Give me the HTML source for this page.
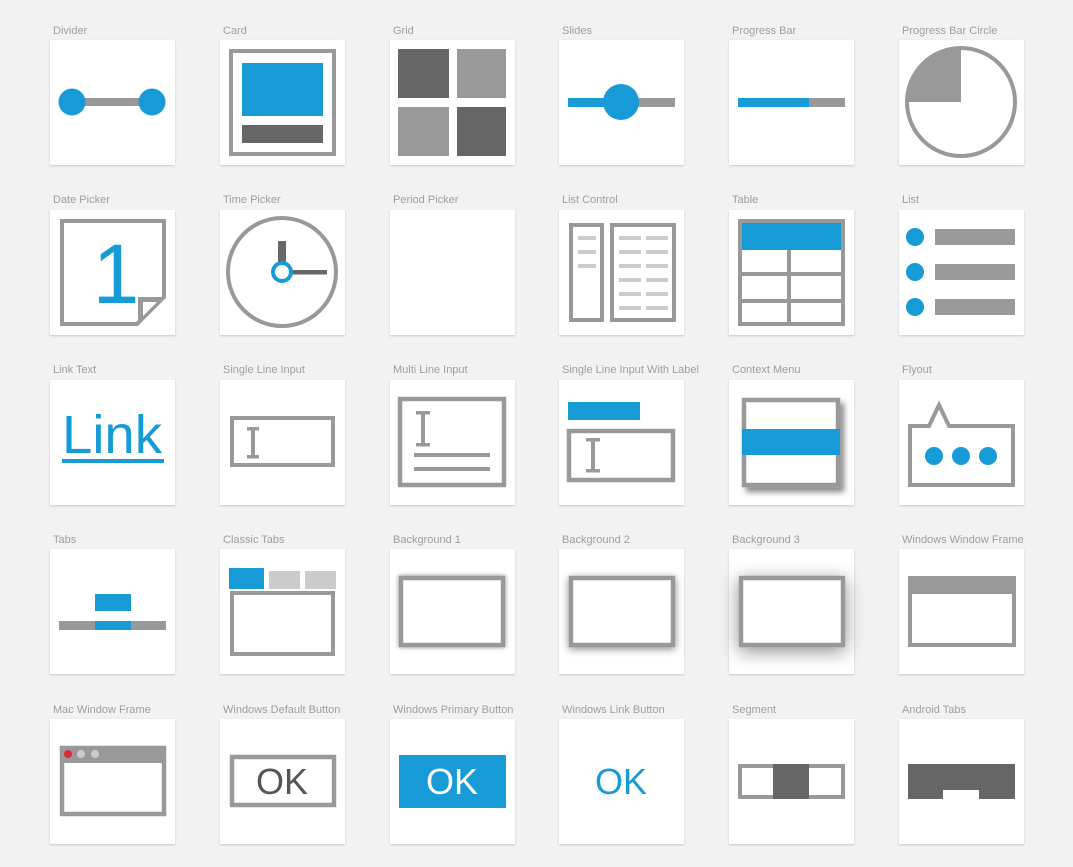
<!DOCTYPE html>
<html><head><meta charset="utf-8"><style>
body{margin:0;background:#f2f2f2;width:1073px;height:867px;overflow:hidden;font-family:"Liberation Sans",sans-serif}
.c{position:absolute;width:125px;height:125px;background:#fff;box-shadow:0 1px 2px rgba(0,0,0,.18)}
.l{position:absolute;font-size:11px;color:#9e9e9e;white-space:nowrap;margin-top:1px}
svg{position:absolute;left:0;top:0;overflow:visible}
</style></head><body>
<svg width="0" height="0"><defs>
<filter id="s1" x="-30%" y="-30%" width="160%" height="160%"><feDropShadow dx="0" dy="0" stdDeviation="2.5" flood-color="#000" flood-opacity=".45"/></filter>
<filter id="s2" x="-30%" y="-30%" width="160%" height="160%"><feDropShadow dx="0" dy="2" stdDeviation="4" flood-color="#000" flood-opacity=".45"/></filter>
<filter id="s3" x="-40%" y="-40%" width="180%" height="180%"><feDropShadow dx="0" dy="4" stdDeviation="9" flood-color="#000" flood-opacity=".45"/></filter>
<filter id="s4" x="-30%" y="-30%" width="160%" height="160%"><feDropShadow dx="4" dy="5" stdDeviation="3" flood-color="#000" flood-opacity=".45"/></filter>
</defs></svg>

<!-- Row 1 -->
<div class="l" style="left:53px;top:24px">Divider</div>
<div class="c" style="left:50px;top:40px"><svg width="125" height="125">
<line x1="22" y1="62" x2="102" y2="62" stroke="#999" stroke-width="8"/>
<circle cx="22" cy="62" r="13.5" fill="#179bd7"/><circle cx="102" cy="62" r="13.5" fill="#179bd7"/></svg></div>

<div class="l" style="left:223px;top:24px">Card</div>
<div class="c" style="left:220px;top:40px"><svg width="125" height="125">
<rect x="11" y="11" width="103" height="103" fill="none" stroke="#999" stroke-width="4"/>
<rect x="22" y="23" width="81" height="53" fill="#179bd7"/><rect x="22" y="85" width="81" height="18" fill="#666"/></svg></div>

<div class="l" style="left:393px;top:24px">Grid</div>
<div class="c" style="left:390px;top:40px"><svg width="125" height="125">
<rect x="8" y="9" width="51" height="49" fill="#666"/><rect x="67" y="9" width="49" height="49" fill="#999"/>
<rect x="8" y="67" width="51" height="49" fill="#999"/><rect x="67" y="67" width="49" height="49" fill="#666"/></svg></div>

<div class="l" style="left:562px;top:24px">Slides</div>
<div class="c" style="left:559px;top:40px"><svg width="125" height="125">
<rect x="9" y="58" width="55" height="9" fill="#179bd7"/><rect x="62" y="58" width="54" height="9" fill="#999"/>
<circle cx="62" cy="62" r="18" fill="#179bd7"/></svg></div>

<div class="l" style="left:732px;top:24px">Progress Bar</div>
<div class="c" style="left:729px;top:40px"><svg width="125" height="125">
<rect x="9" y="58" width="71" height="9" fill="#179bd7"/><rect x="80" y="58" width="36" height="9" fill="#999"/></svg></div>

<div class="l" style="left:902px;top:24px">Progress Bar Circle</div>
<div class="c" style="left:899px;top:40px"><svg width="125" height="125">
<path d="M62 62 L62 8 A54 54 0 0 0 8 62 Z" fill="#999"/>
<circle cx="62" cy="62" r="54" fill="none" stroke="#999" stroke-width="4"/></svg></div>

<!-- Row 2 -->
<div class="l" style="left:53px;top:193px">Date Picker</div>
<div class="c" style="left:50px;top:210px"><svg width="125" height="125">
<path d="M12 11 H114 V87 L87 114 H12 Z" fill="none" stroke="#999" stroke-width="4"/>
<path d="M114 87 H88 V114 Z" fill="#999"/><path d="M107 92 H93 V106 Z" fill="#fff"/>
<text x="66" y="93" font-size="84" fill="#179bd7" text-anchor="middle" font-family="Liberation Sans">1</text></svg></div>

<div class="l" style="left:223px;top:193px">Time Picker</div>
<div class="c" style="left:220px;top:210px"><svg width="125" height="125">
<circle cx="62" cy="62" r="54" fill="none" stroke="#999" stroke-width="4"/>
<rect x="58" y="31" width="8" height="28" fill="#666"/><rect x="66" y="60" width="41" height="4.5" fill="#666"/>
<circle cx="62" cy="62" r="9" fill="#fff" stroke="#179bd7" stroke-width="4"/></svg></div>

<div class="l" style="left:393px;top:193px">Period Picker</div>
<div class="c" style="left:390px;top:210px"></div>

<div class="l" style="left:562px;top:193px">List Control</div>
<div class="c" style="left:559px;top:210px"><svg width="125" height="125">
<rect x="12" y="15" width="31" height="95" fill="none" stroke="#999" stroke-width="4"/>
<rect x="53" y="15" width="62" height="95" fill="none" stroke="#999" stroke-width="4"/>
<g fill="#ccc"><rect x="19" y="26" width="18" height="4"/><rect x="19" y="40" width="18" height="4"/><rect x="19" y="54" width="18" height="4"/>
<rect x="60" y="26" width="22" height="4"/><rect x="87" y="26" width="22" height="4"/>
<rect x="60" y="40" width="22" height="4"/><rect x="87" y="40" width="22" height="4"/>
<rect x="60" y="54" width="22" height="4"/><rect x="87" y="54" width="22" height="4"/>
<rect x="60" y="68" width="22" height="4"/><rect x="87" y="68" width="22" height="4"/>
<rect x="60" y="82" width="22" height="4"/><rect x="87" y="82" width="22" height="4"/>
<rect x="60" y="96" width="22" height="4"/><rect x="87" y="96" width="22" height="4"/></g></svg></div>

<div class="l" style="left:732px;top:193px">Table</div>
<div class="c" style="left:729px;top:210px"><svg width="125" height="125">
<rect x="11" y="11" width="103" height="103" fill="none" stroke="#999" stroke-width="4"/>
<rect x="13" y="13" width="99" height="27" fill="#179bd7"/>
<rect x="13" y="62" width="99" height="4" fill="#999"/><rect x="13" y="89" width="99" height="4" fill="#999"/>
<rect x="58" y="40" width="4" height="74" fill="#999"/></svg></div>

<div class="l" style="left:902px;top:193px">List</div>
<div class="c" style="left:899px;top:210px"><svg width="125" height="125">
<g fill="#179bd7"><circle cx="16" cy="27" r="9"/><circle cx="16" cy="62" r="9"/><circle cx="16" cy="97" r="9"/></g>
<g fill="#999"><rect x="36" y="19" width="80" height="16"/><rect x="36" y="54" width="80" height="16"/><rect x="36" y="89" width="80" height="16"/></g></svg></div>

<!-- Row 3 -->
<div class="l" style="left:53px;top:363px">Link Text</div>
<div class="c" style="left:50px;top:380px"><svg width="125" height="125">
<text x="62" y="73" font-size="54" fill="#179bd7" text-anchor="middle" font-family="Liberation Sans" textLength="100" lengthAdjust="spacingAndGlyphs">Link</text>
<rect x="12" y="79" width="102" height="4" fill="#179bd7"/></svg></div>

<div class="l" style="left:223px;top:363px">Single Line Input</div>
<div class="c" style="left:220px;top:380px"><svg width="125" height="125">
<rect x="12" y="38" width="101" height="47" fill="none" stroke="#999" stroke-width="4"/>
<g fill="#999"><rect x="31" y="47" width="4" height="31"/><rect x="27" y="47" width="12" height="3.5"/><rect x="27" y="75" width="12" height="3.5"/></g></svg></div>

<div class="l" style="left:393px;top:363px">Multi Line Input</div>
<div class="c" style="left:390px;top:380px"><svg width="125" height="125">
<rect x="10" y="19" width="104" height="86" fill="none" stroke="#999" stroke-width="4.5"/>
<g fill="#999"><rect x="31" y="31" width="4" height="35"/><rect x="26" y="31" width="14" height="3.5"/><rect x="26" y="63" width="14" height="3.5"/>
<rect x="24" y="73" width="76" height="4"/><rect x="24" y="87" width="76" height="4"/></g></svg></div>

<div class="l" style="left:562px;top:363px">Single Line Input With Label</div>
<div class="c" style="left:559px;top:380px"><svg width="125" height="125">
<rect x="9" y="22" width="72" height="18" fill="#179bd7"/>
<rect x="10" y="51" width="104" height="49" fill="none" stroke="#999" stroke-width="4.5"/>
<g fill="#999"><rect x="32" y="58" width="4" height="34"/><rect x="27" y="58" width="14" height="3.5"/><rect x="27" y="89" width="14" height="3.5"/></g></svg></div>

<div class="l" style="left:732px;top:363px">Context Menu</div>
<div class="c" style="left:729px;top:380px"><svg width="125" height="125">
<rect x="15" y="20" width="94" height="85" fill="#fff" stroke="#999" stroke-width="4.5" filter="url(#s4)"/>
<rect x="13" y="49" width="98" height="26" fill="#179bd7"/></svg></div>

<div class="l" style="left:902px;top:363px">Flyout</div>
<div class="c" style="left:899px;top:380px"><svg width="125" height="125">
<path d="M11 46 H30 L40 25 L50 46 H114 V105 H11 Z" fill="none" stroke="#999" stroke-width="4"/>
<g fill="#179bd7"><circle cx="35" cy="76" r="9"/><circle cx="62" cy="76" r="9"/><circle cx="89" cy="76" r="9"/></g></svg></div>

<!-- Row 4 -->
<div class="l" style="left:53px;top:533px">Tabs</div>
<div class="c" style="left:50px;top:549px"><svg width="125" height="125">
<rect x="45" y="45" width="36" height="17" fill="#179bd7"/>
<rect x="9" y="72" width="107" height="9" fill="#999"/><rect x="45" y="72" width="36" height="9" fill="#179bd7"/></svg></div>

<div class="l" style="left:223px;top:533px">Classic Tabs</div>
<div class="c" style="left:220px;top:549px"><svg width="125" height="125">
<rect x="9" y="19" width="35" height="21" fill="#179bd7"/><rect x="49" y="22" width="31" height="18" fill="#ccc"/><rect x="85" y="22" width="31" height="18" fill="#ccc"/>
<rect x="12" y="44" width="101" height="61" fill="none" stroke="#999" stroke-width="4"/></svg></div>

<div class="l" style="left:393px;top:533px">Background 1</div>
<div class="c" style="left:390px;top:549px"><svg width="125" height="125">
<rect x="11" y="29" width="102" height="67" fill="#fff" stroke="#999" stroke-width="4.5" filter="url(#s1)"/></svg></div>

<div class="l" style="left:562px;top:533px">Background 2</div>
<div class="c" style="left:559px;top:549px"><svg width="125" height="125">
<rect x="12" y="29" width="102" height="67" fill="#fff" stroke="#999" stroke-width="4.5" filter="url(#s2)"/></svg></div>

<div class="l" style="left:732px;top:533px">Background 3</div>
<div class="c" style="left:729px;top:549px"><svg width="125" height="125">
<rect x="12" y="29" width="102" height="67" fill="#fff" stroke="#999" stroke-width="4.5" filter="url(#s3)"/></svg></div>

<div class="l" style="left:902px;top:533px">Windows Window Frame</div>
<div class="c" style="left:899px;top:549px"><svg width="125" height="125">
<rect x="11" y="29" width="104" height="67" fill="none" stroke="#999" stroke-width="4"/>
<rect x="9" y="27" width="108" height="18" fill="#999"/></svg></div>

<!-- Row 5 -->
<div class="l" style="left:53px;top:703px">Mac Window Frame</div>
<div class="c" style="left:50px;top:719px"><svg width="125" height="125">
<rect x="12" y="29" width="102" height="66" fill="none" stroke="#999" stroke-width="4.5"/>
<rect x="10" y="27" width="106" height="17" fill="#999"/>
<circle cx="18" cy="35" r="4" fill="#e0283a"/><circle cx="31" cy="35" r="4" fill="#ccc"/><circle cx="45" cy="35" r="4" fill="#ccc"/></svg></div>

<div class="l" style="left:223px;top:703px">Windows Default Button</div>
<div class="c" style="left:220px;top:719px"><svg width="125" height="125">
<rect x="12" y="38" width="102" height="48" fill="none" stroke="#999" stroke-width="4.5"/>
<text x="62" y="75" font-size="36" fill="#555" text-anchor="middle" font-family="Liberation Sans">OK</text></svg></div>

<div class="l" style="left:393px;top:703px">Windows Primary Button</div>
<div class="c" style="left:390px;top:719px"><svg width="125" height="125">
<rect x="9" y="36" width="107" height="53" fill="#179bd7"/>
<text x="62" y="75" font-size="36" fill="#fff" text-anchor="middle" font-family="Liberation Sans">OK</text></svg></div>

<div class="l" style="left:562px;top:703px">Windows Link Button</div>
<div class="c" style="left:559px;top:719px"><svg width="125" height="125">
<text x="62" y="75" font-size="36" fill="#179bd7" text-anchor="middle" font-family="Liberation Sans">OK</text></svg></div>

<div class="l" style="left:732px;top:703px">Segment</div>
<div class="c" style="left:729px;top:719px"><svg width="125" height="125">
<rect x="11" y="47" width="103" height="31" fill="none" stroke="#999" stroke-width="4"/>
<rect x="44" y="45" width="36" height="35" fill="#666"/></svg></div>

<div class="l" style="left:902px;top:703px">Android Tabs</div>
<div class="c" style="left:899px;top:719px"><svg width="125" height="125">
<rect x="9" y="45" width="107" height="35" fill="#666"/>
<rect x="44" y="71" width="36" height="9" fill="#fff"/></svg></div>
</body></html>
